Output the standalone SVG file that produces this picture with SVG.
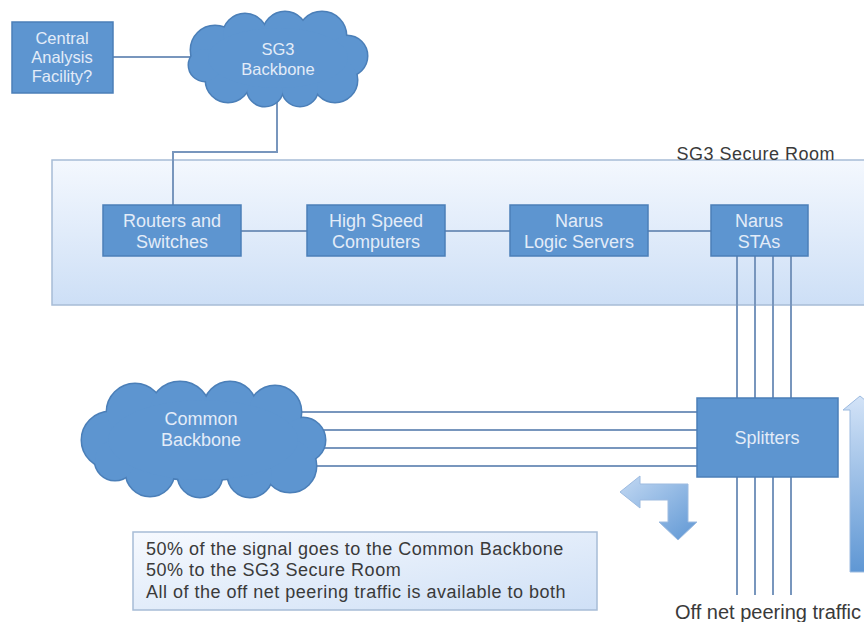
<svg xmlns="http://www.w3.org/2000/svg" width="864" height="622" viewBox="0 0 864 622">
<style>
.box{fill:#5d95d0;stroke:#4b7fb8;stroke-width:1.5}
.bt{font-family:"Liberation Sans",Arial,sans-serif;font-size:18px;fill:#e3ecf8;text-anchor:middle}
.bs{font-size:16.5px}
.dt{font-family:"Liberation Sans",Arial,sans-serif;font-size:18px;fill:#3a3a3a}
.nt{letter-spacing:0.5px}
.lb{font-size:20px}
.ln{stroke:#7896bd;stroke-width:2;fill:none}
.cs{fill:#5d95d0;stroke:#4b7fb8;stroke-width:3}
.cf{fill:#5d95d0}
</style>
<defs>
<linearGradient id="room" x1="0" y1="0" x2="0" y2="1">
<stop offset="0" stop-color="#f4f8fe"/>
<stop offset="1" stop-color="#cddff6"/>
</linearGradient>
<linearGradient id="note" x1="0" y1="0" x2="1" y2="1">
<stop offset="0" stop-color="#f6f9fe"/>
<stop offset="1" stop-color="#cfe0f6"/>
</linearGradient>
<linearGradient id="up" x1="0" y1="0" x2="0" y2="1">
<stop offset="0" stop-color="#d3e3f7"/>
<stop offset="1" stop-color="#5f97d4"/>
</linearGradient>
<linearGradient id="bent" x1="0" y1="0" x2="1" y2="1">
<stop offset="0" stop-color="#c3d9f3"/>
<stop offset="1" stop-color="#5f97d4"/>
</linearGradient>
</defs>

<g id="secure-room">
<rect x="52" y="160" width="830" height="145" fill="url(#room)" stroke="#a7bcd6" stroke-width="1.5"/>
<text class="dt nt" x="835" y="160" text-anchor="end">SG3 Secure Room</text>
</g>

<g id="connectors">
<line class="ln" x1="113" y1="57" x2="200" y2="57"/>
<polyline class="ln" points="277,100 277,152 173,152 173,206"/>
<line class="ln" x1="241" y1="231" x2="307" y2="231"/>
<line class="ln" x1="445" y1="231" x2="510" y2="231"/>
<line class="ln" x1="648" y1="231" x2="711" y2="231"/>
<line class="ln" x1="737" y1="256" x2="737" y2="398"/>
<line class="ln" x1="755" y1="256" x2="755" y2="398"/>
<line class="ln" x1="773" y1="256" x2="773" y2="398"/>
<line class="ln" x1="791" y1="256" x2="791" y2="398"/>
<line class="ln" x1="737" y1="477" x2="737" y2="595"/>
<line class="ln" x1="755" y1="477" x2="755" y2="595"/>
<line class="ln" x1="773" y1="477" x2="773" y2="595"/>
<line class="ln" x1="791" y1="477" x2="791" y2="595"/>
<line class="ln" x1="290" y1="412" x2="697" y2="412"/>
<line class="ln" x1="290" y1="430" x2="697" y2="430"/>
<line class="ln" x1="290" y1="448" x2="697" y2="448"/>
<line class="ln" x1="290" y1="466" x2="697" y2="466"/>
</g>

<g id="central-analysis">
<rect class="box" x="12" y="22" width="101" height="71"/>
<text class="bt bs" x="62" y="44">Central</text>
<text class="bt bs" x="62" y="63">Analysis</text>
<text class="bt bs" x="62" y="82">Facility?</text>
</g>

<g id="sg3-backbone">
<g class="cs">
<circle cx="215" cy="50" r="24"/><circle cx="245" cy="36" r="22"/><circle cx="285" cy="34" r="22"/>
<circle cx="322" cy="36" r="24"/><circle cx="347" cy="56" r="20"/><circle cx="335" cy="80" r="22"/>
<circle cx="300" cy="88" r="18"/><circle cx="265" cy="88" r="18"/><circle cx="228" cy="80" r="22"/>
<circle cx="205" cy="65" r="16"/><ellipse cx="278" cy="58" rx="70" ry="30"/>
</g>
<g class="cf">
<circle cx="215" cy="50" r="24"/><circle cx="245" cy="36" r="22"/><circle cx="285" cy="34" r="22"/>
<circle cx="322" cy="36" r="24"/><circle cx="347" cy="56" r="20"/><circle cx="335" cy="80" r="22"/>
<circle cx="300" cy="88" r="18"/><circle cx="265" cy="88" r="18"/><circle cx="228" cy="80" r="22"/>
<circle cx="205" cy="65" r="16"/><ellipse cx="278" cy="58" rx="70" ry="30"/>
</g>
<text class="bt bs" x="278" y="55">SG3</text>
<text class="bt bs" x="278" y="75">Backbone</text>
</g>

<g id="routers">
<rect class="box" x="103" y="205" width="138" height="51"/>
<text class="bt" x="172" y="227">Routers and</text>
<text class="bt" x="172" y="248">Switches</text>
</g>
<g id="computers">
<rect class="box" x="307" y="205" width="138" height="51"/>
<text class="bt" x="376" y="227">High Speed</text>
<text class="bt" x="376" y="248">Computers</text>
</g>
<g id="logic-servers">
<rect class="box" x="510" y="205" width="138" height="51"/>
<text class="bt" x="579" y="227">Narus</text>
<text class="bt" x="579" y="248">Logic Servers</text>
</g>
<g id="stas">
<rect class="box" x="711" y="205" width="97" height="51"/>
<text class="bt" x="759" y="227">Narus</text>
<text class="bt" x="759" y="248">STAs</text>
</g>

<g id="common-backbone">
<g class="cs">
<circle cx="110" cy="440" r="28"/><circle cx="135" cy="412" r="28"/><circle cx="180" cy="412" r="30"/>
<circle cx="230" cy="408" r="26"/><circle cx="275" cy="412" r="26"/><circle cx="303" cy="440" r="22"/>
<circle cx="290" cy="466" r="26"/><circle cx="250" cy="475" r="22"/><circle cx="200" cy="475" r="22"/>
<circle cx="150" cy="472" r="24"/><circle cx="115" cy="460" r="20"/><ellipse cx="203" cy="440" rx="95" ry="40"/>
</g>
<g class="cf">
<circle cx="110" cy="440" r="28"/><circle cx="135" cy="412" r="28"/><circle cx="180" cy="412" r="30"/>
<circle cx="230" cy="408" r="26"/><circle cx="275" cy="412" r="26"/><circle cx="303" cy="440" r="22"/>
<circle cx="290" cy="466" r="26"/><circle cx="250" cy="475" r="22"/><circle cx="200" cy="475" r="22"/>
<circle cx="150" cy="472" r="24"/><circle cx="115" cy="460" r="20"/><ellipse cx="203" cy="440" rx="95" ry="40"/>
</g>
<text class="bt" x="201" y="425">Common</text>
<text class="bt" x="201" y="446">Backbone</text>
</g>

<g id="splitters">
<rect class="box" x="697" y="398" width="141" height="79"/>
<text class="bt" x="767" y="444">Splitters</text>
</g>

<g id="up-arrow">
<path d="M850,572 L850,410 L843,410 L860,396 L877,410 L870,410 L870,572 Z" fill="url(#up)" stroke="#9dbbe0" stroke-width="1"/>
</g>

<g id="bent-arrow">
<path d="M620,492 L640,476 L640,484 L688,484 L688,522 L697,522 L678,540 L659,522 L668,522 L668,500 L640,500 L640,508 Z" fill="url(#bent)" stroke="#9dbbe0" stroke-width="1"/>
</g>

<g id="note">
<rect x="133" y="532" width="464" height="78" fill="url(#note)" stroke="#a7bcd6" stroke-width="1.5"/>
<text class="dt nt" x="146" y="555">50% of the signal goes to the Common Backbone</text>
<text class="dt nt" x="146" y="576">50% to the SG3 Secure Room</text>
<text class="dt nt" x="146" y="598">All of the off net peering traffic is available to both</text>
</g>

<g id="off-net-label">
<text class="dt lb" x="861" y="619" text-anchor="end">Off net peering traffic</text>
</g>
</svg>
